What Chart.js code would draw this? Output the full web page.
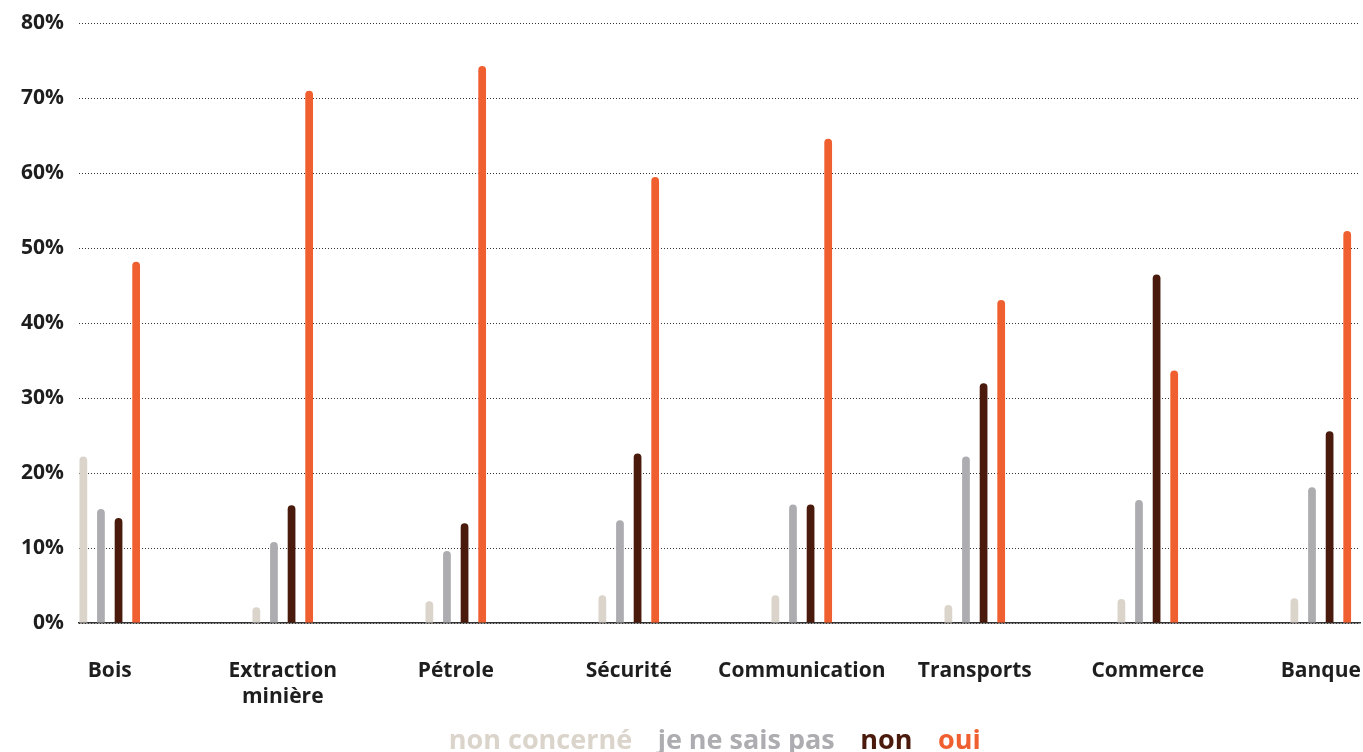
<!DOCTYPE html>
<html>
<head>
<meta charset="utf-8">
<script src="https://cdn.jsdelivr.net/npm/chart.js@4"></script>
<style>
  html, body { margin: 0; padding: 0; background: #fff; overflow: hidden; }
  #wrap { width: 1363px; height: 765px; }
</style>
</head>
<body>
<div id="wrap"><canvas id="chart"></canvas></div>
<script>
  const categories = ["Bois", ["Extraction", "minière"], "Pétrole", "Sécurité", "Communication", "Transports", "Commerce", "Banque"];
  const seriesNames = ["non concerné", "je ne sais pas", "non", "oui"];
  const nonConcerne = [22.2, 2.1, 2.9, 3.7, 3.7, 2.4, 3.2, 3.3];
  const jeNeSaisPas = [15.2, 10.8, 9.6, 13.7, 15.8, 22.2, 16.4, 18.1];
  const non = [14.0, 15.7, 13.3, 22.6, 15.8, 32.0, 46.5, 25.6];
  const oui = [48.2, 71.0, 74.3, 59.5, 64.6, 43.1, 33.7, 52.3];
  const yTicks = [0, 10, 20, 30, 40, 50, 60, 70, 80];

  const colors = ["#dad4cb", "#adadb1", "#4a1a0c", "#f05f2f"];
  const values = [nonConcerne, jeNeSaisPas, non, oui];
  const fontFamily = "'Open Sans', sans-serif";

  const datasets = values.map((vals, i) => ({
    label: seriesNames[i],
    data: vals.map((v, k) => ({ x: k, y: v })),
    backgroundColor: colors[i],
    borderRadius: 4,
    borderSkipped: 'start',
    categoryPercentage: 0.407,
    barPercentage: 0.44
  }));

  // legend sits a bit right of the page centre in the original
  const shiftLegend = {
    id: 'shiftLegend',
    afterLayout(chart) {
      chart.legend.left += 28;
      chart.legend.right += 28;
    }
  };

  new Chart(document.getElementById('chart'), {
    type: 'bar',
    data: { datasets },
    plugins: [shiftLegend],
    options: {
      responsive: true,
      maintainAspectRatio: false,
      animation: false,
      layout: { padding: { left: 0, right: 3, top: 6, bottom: 0 } },
      plugins: {
        tooltip: { enabled: false },
        legend: {
          position: 'bottom',
          labels: {
            boxWidth: 0,
            boxHeight: 0,
            padding: 12,
            font: { family: fontFamily, size: 27, weight: 'bold' },
            generateLabels: chart => chart.data.datasets.map((ds, i) => ({
              text: ds.label,
              fontColor: colors[i],
              fillStyle: 'rgba(0,0,0,0)',
              strokeStyle: 'rgba(0,0,0,0)',
              lineWidth: 0,
              datasetIndex: i
            }))
          }
        }
      },
      scales: {
        x: {
          type: 'linear',
          bounds: 'data',
          offset: false,
          min: -0.1777,
          max: 7.2266,
          afterBuildTicks: s => { s.ticks = categories.map((_, i) => ({ value: i })); },
          afterFit: s => {
            s.height = 93;
            s.paddingLeft = 0;
            s.paddingRight = 0;
          },
          grid: { display: false, offset: false },
          border: { display: true, color: '#333', width: 1.5 },
          ticks: {
            padding: 27,
            maxRotation: 0,
            minRotation: 0,
            autoSkip: false,
            color: '#1e1e1e',
            font: { family: fontFamily, size: 21, weight: 'bold', lineHeight: 1.25 },
            callback: v => categories[v]
          }
        },
        y: {
          min: 0,
          max: 80,
          afterBuildTicks: s => { s.ticks = yTicks.map(v => ({ value: v })); },
          afterFit: s => { s.width = 79; },
          grid: { color: '#333', lineWidth: 1, drawTicks: false },
          border: { display: false, dash: [1, 2] },
          ticks: {
            padding: 15,
            color: '#1e1e1e',
            font: { family: fontFamily, size: 21, weight: 'bold', lineHeight: 0.8 },
            callback: v => v + '%'
          }
        }
      }
    }
  });
</script>
</body>
</html>
